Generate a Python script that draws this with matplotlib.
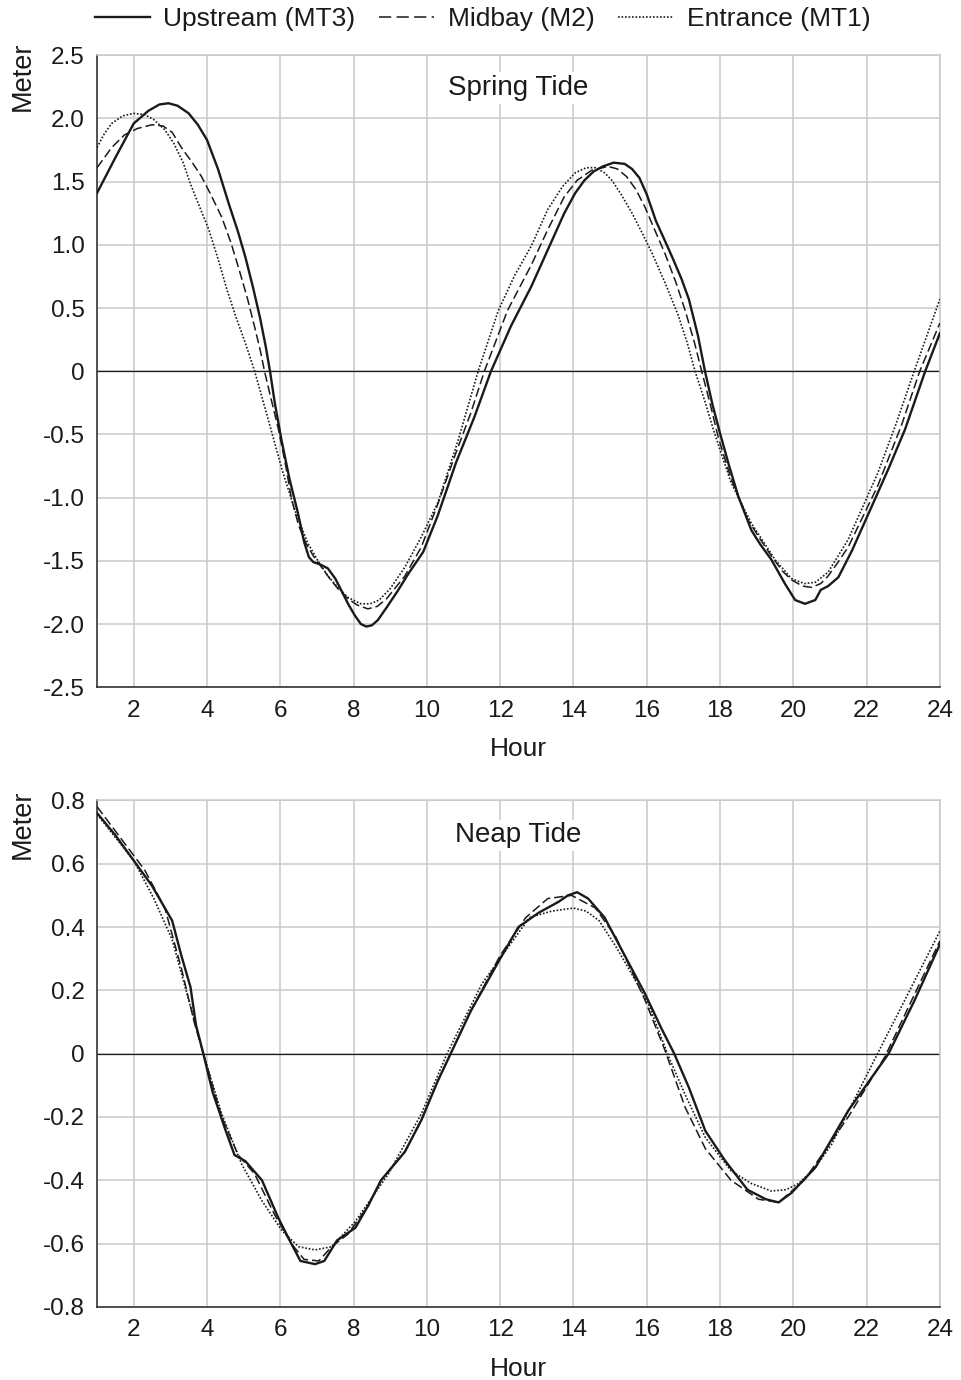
import matplotlib.pyplot as plt
from matplotlib.lines import Line2D

# spring tide (top panel)
spring_up_h = [1.0, 1.5, 2.0, 2.4, 2.7, 2.95, 3.2, 3.5, 3.75, 4.0, 4.3, 4.6, 4.85, 5.05, 5.25, 5.45, 5.6, 5.72,
               5.85, 6.03, 6.25, 6.48, 6.65, 6.78, 6.9, 7.1, 7.3, 7.5, 7.66, 7.85, 8.03, 8.2, 8.35, 8.5, 8.66,
               8.9, 9.2, 9.5, 9.9, 10.3, 10.8, 11.3, 11.75, 12.3, 12.85, 13.3, 13.75, 14.05, 14.3, 14.55, 14.8,
               15.1, 15.4, 15.6, 15.8, 16.0, 16.25, 16.5, 16.7, 16.95, 17.15, 17.4, 17.59, 17.8, 18.0, 18.25,
               18.5, 18.86, 19.1, 19.4, 19.77, 20.05, 20.32, 20.6, 20.75, 20.95, 21.23, 21.6, 22.14, 22.6,
               23.05, 23.6, 24.0]
spring_up = [1.41, 1.69, 1.96, 2.06, 2.11, 2.12, 2.10, 2.04, 1.95, 1.83, 1.60, 1.32, 1.10, 0.90, 0.67, 0.42,
             0.20, 0.0, -0.25, -0.54, -0.85, -1.12, -1.35, -1.47, -1.51, -1.53, -1.56, -1.64, -1.73, -1.84,
             -1.93, -2.0, -2.02, -2.01, -1.97, -1.87, -1.74, -1.60, -1.43, -1.14, -0.72, -0.36, 0.0, 0.36, 0.67,
             0.96, 1.25, 1.41, 1.51, 1.58, 1.62, 1.65, 1.64, 1.60, 1.53, 1.40, 1.19, 1.03, 0.90, 0.73, 0.57,
             0.28, 0.0, -0.27, -0.49, -0.75, -0.99, -1.26, -1.37, -1.49, -1.68, -1.81, -1.84, -1.81, -1.73,
             -1.70, -1.63, -1.42, -1.07, -0.77, -0.46, 0.0, 0.30]

spring_mid_h = [1.0, 1.4, 1.75, 2.1, 2.5, 2.8, 3.05, 3.3, 3.6, 3.85, 4.1, 4.4, 4.65, 4.85, 5.1, 5.3, 5.45, 5.57,
                5.75, 5.95, 6.15, 6.3, 6.5, 6.7, 6.9, 7.1, 7.35, 7.6, 7.85, 8.1, 8.39, 8.65, 8.9, 9.4, 9.85,
                10.3, 10.75, 11.2, 11.57, 12.2, 12.85, 13.3, 13.75, 14.1, 14.5, 14.95, 15.2, 15.45, 15.7, 15.95,
                16.2, 16.5, 16.8, 17.05, 17.3, 17.5, 17.75, 17.95, 18.3, 18.75, 19.1, 19.4, 19.7, 19.95, 20.25,
                20.5, 20.75, 20.95, 21.2, 21.5, 22.3, 22.95, 23.45, 24.0]
spring_mid = [1.61, 1.77, 1.87, 1.92, 1.95, 1.94, 1.89, 1.77, 1.65, 1.54, 1.40, 1.22, 1.02, 0.83, 0.58, 0.35,
              0.17, 0.0, -0.22, -0.46, -0.75, -1.0, -1.22, -1.36, -1.46, -1.54, -1.64, -1.73, -1.80, -1.85,
              -1.88, -1.86, -1.80, -1.62, -1.39, -1.05, -0.68, -0.33, 0.0, 0.48, 0.84, 1.12, 1.38, 1.51, 1.59,
              1.62, 1.60, 1.54, 1.44, 1.30, 1.13, 0.93, 0.70, 0.48, 0.23, 0.0, -0.28, -0.52, -0.85, -1.17,
              -1.33, -1.46, -1.58, -1.65, -1.70, -1.71, -1.68, -1.62, -1.52, -1.39, -0.91, -0.43, 0.0, 0.38]

spring_ent_h = [1.0, 1.2, 1.4, 1.7, 2.0, 2.3, 2.55, 2.85, 3.1, 3.35, 3.55, 3.8, 4.05, 4.3, 4.55, 4.8, 5.05, 5.3,
                5.65, 6.05, 6.4, 6.75, 7.05, 7.3, 7.6, 7.85, 8.2, 8.45, 8.7, 9.0, 9.4, 9.85, 10.3, 10.85, 11.4,
                11.95, 12.4, 12.85, 13.3, 13.7, 14.05, 14.35, 14.6, 14.85, 15.05, 15.3, 15.6, 15.9, 16.15, 16.5,
                16.85, 17.1, 17.32, 17.6, 17.85, 18.3, 18.85, 19.5, 19.95, 20.3, 20.6, 20.95, 21.5, 22.3, 22.8,
                23.3, 24.0]
spring_ent = [1.77, 1.88, 1.96, 2.02, 2.04, 2.03, 1.99, 1.91, 1.80, 1.65, 1.48, 1.30, 1.12, 0.89, 0.64, 0.42,
              0.22, 0.0, -0.36, -0.78, -1.10, -1.36, -1.51, -1.62, -1.72, -1.79, -1.84, -1.84, -1.81, -1.72,
              -1.55, -1.31, -1.04, -0.55, 0.0, 0.48, 0.76, 0.99, 1.28, 1.46, 1.57, 1.61, 1.61, 1.57, 1.51, 1.40,
              1.25, 1.08, 0.93, 0.70, 0.45, 0.23, 0.0, -0.25, -0.49, -0.88, -1.20, -1.49, -1.64, -1.68, -1.67,
              -1.59, -1.33, -0.81, -0.42, 0.0, 0.57]

# neap tide (bottom panel)
neap_up_h = [1.0, 1.5, 2.0, 2.5, 3.05, 3.3, 3.55, 3.7, 3.9, 4.15, 4.5, 4.75, 5.05, 5.5, 5.95, 6.3, 6.55, 6.95,
             7.2, 7.55, 8.05, 8.4, 8.75, 9.4, 9.85, 10.3, 10.65, 11.2, 12.0, 12.5, 13.05, 13.6, 13.85, 14.1,
             14.4, 14.85, 15.4, 15.95, 16.4, 16.75, 17.15, 17.6, 18.15, 18.75, 19.25, 19.6, 19.95, 20.6, 21.5,
             22.6, 23.3, 24.0]
neap_up = [0.76, 0.69, 0.61, 0.53, 0.42, 0.31, 0.21, 0.09, 0.0, -0.12, -0.24, -0.32, -0.34, -0.40, -0.52, -0.60,
           -0.655, -0.665, -0.655, -0.59, -0.55, -0.48, -0.40, -0.31, -0.21, -0.086, 0.0, 0.135, 0.30, 0.40,
           0.445, 0.48, 0.50, 0.51, 0.49, 0.43, 0.31, 0.19, 0.08, 0.0, -0.107, -0.244, -0.34, -0.43, -0.46,
           -0.47, -0.44, -0.36, -0.18, 0.0, 0.166, 0.345]

neap_mid_h = [1.0, 1.65, 2.3, 2.85, 3.3, 3.65, 3.9, 4.4, 4.85, 5.3, 5.85, 6.3, 6.65, 7.05, 7.4, 7.85, 8.4, 8.75,
              9.4, 9.85, 10.3, 10.65, 11.2, 12.0, 12.7, 13.3, 13.95, 14.6, 15.15, 15.95, 16.5, 17.05, 17.6,
              18.3, 19.05, 19.6, 20.3, 21.5, 22.5, 24.0]
neap_mid = [0.78, 0.68, 0.58, 0.46, 0.27, 0.10, 0.0, -0.20, -0.32, -0.38, -0.51, -0.60, -0.65, -0.655, -0.61,
            -0.57, -0.48, -0.40, -0.31, -0.21, -0.086, 0.0, 0.135, 0.31, 0.43, 0.49, 0.50, 0.46, 0.37, 0.17,
            0.01, -0.17, -0.30, -0.40, -0.46, -0.47, -0.40, -0.20, -0.01, 0.356]

neap_ent_h = [1.0, 2.0, 2.55, 3.05, 3.5, 3.9, 4.4, 4.95, 5.5, 6.05, 6.5, 6.95, 7.4, 8.05, 8.95, 9.85, 10.55,
              11.5, 12.8, 13.4, 14.0, 14.35, 14.7, 15.15, 15.6, 16.05, 16.6, 17.05, 17.6, 18.3, 18.85, 19.4,
              19.8, 20.15, 20.6, 21.05, 22.3, 24.0]
neap_ent = [0.756, 0.61, 0.49, 0.36, 0.17, 0.0, -0.19, -0.35, -0.465, -0.56, -0.61, -0.62, -0.61, -0.53, -0.38,
            -0.19, 0.0, 0.22, 0.43, 0.45, 0.46, 0.45, 0.42, 0.34, 0.25, 0.156, -0.01, -0.13, -0.265, -0.37,
            -0.41, -0.434, -0.43, -0.41, -0.36, -0.286, 0.0, 0.387]

hour_ticks = list(range(2, 25, 2))
spring_yticks = [2.5, 2.0, 1.5, 1.0, 0.5, 0, -0.5, -1.0, -1.5, -2.0, -2.5]
spring_ylabels = ['2.5', '2.0', '1.5', '1.0', '0.5', '0', '-0.5', '-1.0', '-1.5', '-2.0', '-2.5']
neap_yticks = [0.8, 0.6, 0.4, 0.2, 0, -0.2, -0.4, -0.6, -0.8]
neap_ylabels = ['0.8', '0.6', '0.4', '0.2', '0', '-0.2', '-0.4', '-0.6', '-0.8']
series_names = ['Upstream (MT3)', 'Midbay (M2)', 'Entrance (MT1)']

plt.rcParams['font.family'] = ['Liberation Sans', 'DejaVu Sans']

ink = '#1a1a1a'
grid_c = '#c9c9c9'
styles = [dict(color=ink, lw=1.7, ls='-', solid_joinstyle='round'),
          dict(color=ink, lw=1.1, ls=(0, (6, 2.6))),
          dict(color=ink, lw=1.2, ls=(0, (1, 1.1)))]

fig = plt.figure(figsize=(9.61, 13.8), dpi=100)
ax1 = fig.add_axes([0.101, 0.502, 0.877, 0.458])
ax2 = fig.add_axes([0.101, 0.053, 0.877, 0.367])


def style_axes(ax, yticks, ylabels, ylim, title, title_y):
    ax.set_xlim(1, 24)
    ax.set_ylim(*ylim)
    ax.set_xticks(hour_ticks)
    ax.set_xticklabels([str(h) for h in hour_ticks], fontsize=17.5, color=ink)
    ax.set_yticks(yticks)
    ax.set_yticklabels(ylabels, fontsize=17.5, color=ink)
    ax.tick_params(length=0)
    ax.tick_params(axis='x', pad=9)
    ax.tick_params(axis='y', pad=9)
    ax.grid(True, color=grid_c, lw=1.1)
    ax.set_axisbelow(True)
    for s in ['top', 'right']:
        ax.spines[s].set_color(grid_c)
        ax.spines[s].set_linewidth(1.1)
    for s in ['left', 'bottom']:
        ax.spines[s].set_color('#333333')
        ax.spines[s].set_linewidth(1.2)
    ax.axhline(0, color=ink, lw=0.9, zorder=1.5)
    ax.set_xlabel('Hour', fontsize=19, color=ink, labelpad=11)
    ax.text(0.5, title_y, title, transform=ax.transAxes, ha='center', va='center',
            fontsize=20, color=ink, zorder=5,
            bbox=dict(facecolor='white', edgecolor='none', pad=2))
    ax.text(-0.088, 1.022, 'Meter', transform=ax.transAxes, rotation=90,
            ha='center', va='top', fontsize=19.5, color=ink)


style_axes(ax1, spring_yticks, spring_ylabels, (-2.5, 2.5), 'Spring Tide', 0.948)
style_axes(ax2, neap_yticks, neap_ylabels, (-0.8, 0.8), 'Neap Tide', 0.931)

ax1.plot(spring_ent_h, spring_ent, zorder=3, **styles[2])
ax1.plot(spring_mid_h, spring_mid, zorder=3, **styles[1])
ax1.plot(spring_up_h, spring_up, zorder=4, **styles[0])

ax2.plot(neap_ent_h, neap_ent, zorder=3, **styles[2])
ax2.plot(neap_mid_h, neap_mid, zorder=3, **styles[1])
ax2.plot(neap_up_h, neap_up, zorder=4, **styles[0])

handles = [Line2D([], [], **styles[0]),
           Line2D([], [], color=ink, lw=1.1, ls=(0, (8, 3.5))),
           Line2D([], [], **styles[2])]
fig.legend(handles, series_names, loc='center', bbox_to_anchor=(0.502, 0.986), ncol=3,
           frameon=False, fontsize=19, handlelength=2.1, handletextpad=0.5, columnspacing=0.9,
           labelcolor=ink)

fig.savefig('out.png', dpi=100, facecolor='white')
